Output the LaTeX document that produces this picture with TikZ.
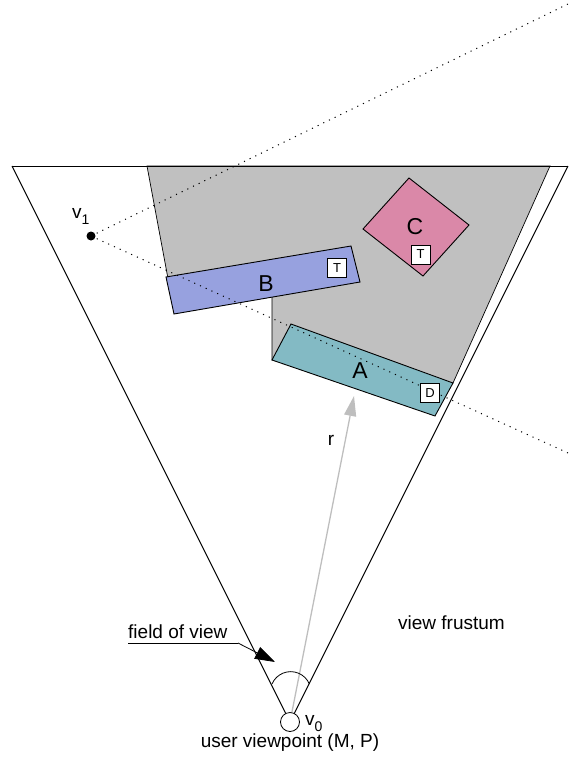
\documentclass[tikz,border=0pt]{standalone}
\usepackage{fontspec}
\setmainfont{Liberation Sans}
\usetikzlibrary{arrows.meta}
\definecolor{occl}{RGB}{192,192,192}
\definecolor{objA}{RGB}{131,186,196}
\definecolor{objB}{RGB}{151,161,223}
\definecolor{objC}{RGB}{218,136,168}
\definecolor{raygray}{RGB}{190,190,190}
\newcommand{\subidx}[1]{\raisebox{-6pt}{\fontsize{14}{14}\selectfont #1}}
\tikzset{
  edge/.style={draw=black, line width=1pt},
  objrect/.style={draw=black, line width=0.9pt},
  tag/.style={draw=black, fill=white, line width=0.8pt, minimum size=19pt, inner sep=0pt, font=\fontsize{13}{13}\selectfont},
  biglabel/.style={font=\fontsize{23}{23}\selectfont, inner sep=0pt},
  txt/.style={font=\fontsize{19}{19}\selectfont, inner sep=0pt},
  sight/.style={line width=1pt, dash pattern=on 1.1pt off 5.2pt},
}
\begin{document}
\begin{tikzpicture}[x=1pt,y=-1pt]
\useasboundingbox (0,0) rectangle (568,758);

% frustum corners
\coordinate (apex) at (290,722);
\coordinate (fl) at (12,166);
\coordinate (fr) at (568,166);

% occluded region behind B and A
\filldraw[fill=occl, draw=black, line width=0.7pt]
  (147,166) -- (550,166) -- (453,383) -- (272,360) -- (272,296) -- (172,300) -- cycle;

\draw[edge] (fl) -- (apex) -- (fr);
\draw[edge] (fl) -- (fr);

% objects
\filldraw[objrect, fill=objB] (166,277) -- (351,246) -- (360,282) -- (174,314) -- cycle;
\filldraw[objrect, fill=objC] (409,178) -- (469,225) -- (423,276) -- (363,229) -- cycle;
\filldraw[objrect, fill=objA] (291,324) -- (453,383) -- (435,416) -- (272,360) -- cycle;

% viewpoint v1 and its sight lines
\fill (91,236) circle (4.5pt) coordinate (v1);
\draw[sight] (v1) -- (568,4);
\draw[sight] (v1) -- (568,453);

\node[biglabel] (labB) at (266,284) {B};
\node[biglabel] (labC) at (415,227) {C};
\node[biglabel] (labA) at (360,371) {A};
\node[tag] (tB) at (337,268) {T};
\node[tag] (tC) at (420.5,254.5) {T};
\node[tag] (tA) at (430,393) {D};

\node[txt, anchor=base west] (lv1) at (72,218) {v\subidx{1}};

% view direction
\draw[raygray, line width=1.3pt, -{Triangle[length=20pt,width=12pt]}] (apex) -- (354,396) coordinate (rtip);
\node[txt] (lr) at (331,440) {r};

% field of view arc
\draw[line width=0.8pt] (272,684) arc[start angle=-157, end angle=-23, radius=20.3];

% user viewpoint
\node[draw=black, fill=white, circle, minimum size=19pt, inner sep=0pt, line width=0.8pt] (v0) at (apex) {};
\node[txt, anchor=base west] (lv0) at (305,725) {v\subidx{0}};
\node[txt, anchor=base] (lup) at (290,747.5) {user viewpoint (M, P)};

% field of view callout
\node[txt, anchor=base west] (lfov) at (128,638) {field of view};
\coordinate (fovstart) at (128,643);
\coordinate (fovend) at (238,643);
\coordinate (fovtip) at (275,662);
\draw[line width=0.8pt] (fovstart) -- (fovend);
\draw[line width=0.8pt, -{Triangle[length=20pt,width=13pt]}] (fovend) -- (fovtip);

\node[txt, anchor=base west] (lfr) at (398,629) {view frustum};
\end{tikzpicture}
\end{document}
